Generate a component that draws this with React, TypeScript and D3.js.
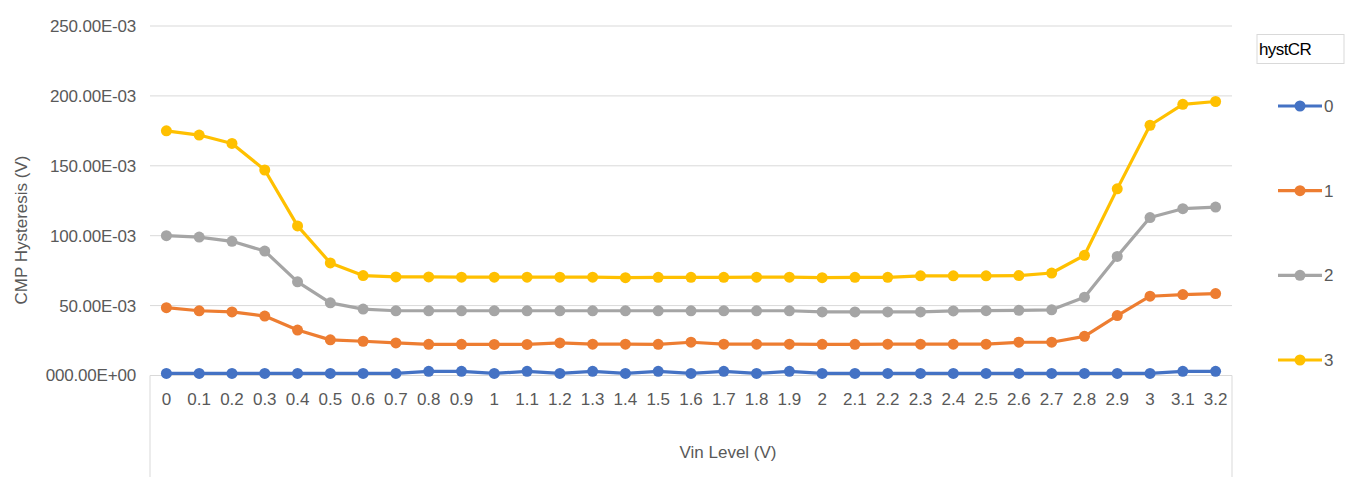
import * as d3 from 'd3';
import React from 'react';

// Vin level categories (V)
const categories: string[] = [
  '0', '0.1', '0.2', '0.3', '0.4', '0.5', '0.6', '0.7', '0.8', '0.9', '1',
  '1.1', '1.2', '1.3', '1.4', '1.5', '1.6', '1.7', '1.8', '1.9', '2',
  '2.1', '2.2', '2.3', '2.4', '2.5', '2.6', '2.7', '2.8', '2.9', '3', '3.1', '3.2',
];

// hysteresis values in mV, one array per hystCR setting
const hyst0: number[] = [
  1.5, 1.5, 1.5, 1.5, 1.5, 1.5, 1.5, 1.5, 3, 3, 1.5,
  3, 1.5, 3, 1.5, 3, 1.5, 3, 1.5, 3, 1.5,
  1.5, 1.5, 1.5, 1.5, 1.5, 1.5, 1.5, 1.5, 1.5, 1.5, 3, 3,
];
const hyst1: number[] = [
  48.5, 46.3, 45.5, 42.5, 32.5, 25.5, 24.5, 23.3, 22.3, 22.3, 22.2,
  22.2, 23.3, 22.4, 22.4, 22.3, 23.8, 22.4, 22.4, 22.4, 22.3,
  22.3, 22.4, 22.4, 22.4, 22.4, 23.8, 23.8, 28, 42.9, 56.7, 57.9, 58.6,
];
const hyst2: number[] = [
  100, 99, 96, 89, 67, 52, 47.5, 46.3, 46.3, 46.3, 46.3,
  46.3, 46.3, 46.3, 46.3, 46.3, 46.3, 46.3, 46.3, 46.3, 45.5,
  45.5, 45.5, 45.5, 46.2, 46.4, 46.6, 47, 56, 85.2, 113, 119.3, 120.5,
];
const hyst3: number[] = [
  175, 172, 166, 147, 107, 80.5, 71.5, 70.5, 70.5, 70.3, 70.3,
  70.3, 70.3, 70.3, 70, 70.2, 70.2, 70.2, 70.3, 70.3, 70,
  70.2, 70.2, 71.3, 71.3, 71.3, 71.5, 73.3, 86, 133.5, 179, 194, 196,
];

const seriesNames: string[] = ['0', '1', '2', '3'];
const seriesColors: string[] = ['#4472C4', '#ED7D31', '#A5A5A5', '#FFC000'];
const yTicks: number[] = [0, 50, 100, 150, 200, 250];

const W = 1345;
const H = 477;
const FONT = "'Liberation Sans', Arial, Helvetica, sans-serif";

export default function App() {
  const series = [hyst0, hyst1, hyst2, hyst3];

  const xScale = d3.scaleBand<string>().domain(categories).range([150, 1232]);
  const yScale = d3.scaleLinear().domain([0, 250]).range([375.5, 26]);
  const xc = (c: string) => (xScale(c) ?? 0) + xScale.bandwidth() / 2;

  const line = d3
    .line<number>()
    .x((_, i) => xc(categories[i]))
    .y((d) => yScale(d));

  const fmt = (v: number) => (v === 0 ? '000.00E+00' : `${v.toFixed(2)}E-03`);

  const legendY = d3.scalePoint<string>().domain(seriesNames).range([106, 360]);

  return (
    <svg
      width={W}
      height={H}
      style={{ position: 'absolute', left: 0, top: 0, background: '#fff' }}
      fontFamily={FONT}
    >
      {/* gridlines */}
      {yTicks.map((t) => (
        <line key={t} x1={150} x2={1232} y1={yScale(t)} y2={yScale(t)} stroke="#D9D9D9" strokeWidth={1} />
      ))}

      {/* category axis box */}
      <line x1={150} x2={150} y1={yScale(0)} y2={H} stroke="#D9D9D9" />
      <line x1={1232} x2={1232} y1={yScale(0)} y2={H} stroke="#D9D9D9" />

      {/* y tick labels */}
      {yTicks.map((t) => (
        <text
          key={t}
          x={136}
          y={yScale(t)}
          dy="0.35em"
          textAnchor="end"
          fontSize={17}
          letterSpacing={-0.2}
          fill="#595959"
        >
          {fmt(t)}
        </text>
      ))}

      {/* x tick labels */}
      {categories.map((c) => (
        <text key={c} x={xc(c)} y={399} dy="0.35em" textAnchor="middle" fontSize={17} fill="#595959">
          {c}
        </text>
      ))}

      {/* axis titles */}
      <text x={728} y={452} dy="0.35em" textAnchor="middle" fontSize={17} fill="#595959">
        Vin Level (V)
      </text>
      <text
        transform="translate(21,230) rotate(-90)"
        dy="0.35em"
        textAnchor="middle"
        fontSize={17}
        fill="#595959"
      >
        CMP Hysteresis (V)
      </text>

      {/* series */}
      {series.map((vals, si) => (
        <g key={si}>
          <path d={line(vals) ?? ''} fill="none" stroke={seriesColors[si]} strokeWidth={3.2} strokeLinejoin="round" />
          {vals.map((v, i) => (
            <circle key={i} cx={xc(categories[i])} cy={yScale(v)} r={5.5} fill={seriesColors[si]} />
          ))}
        </g>
      ))}

      {/* legend */}
      <rect x={1257} y={34.5} width={87} height={29} fill="#fff" stroke="#D9D9D9" />
      <text x={1259} y={49} dy="0.35em" fontSize={17} letterSpacing={-0.6} fill="#000">
        hystCR
      </text>
      {seriesNames.map((n, si) => {
        const y = legendY(n) ?? 0;
        return (
          <g key={n}>
            <line x1={1278} x2={1322} y1={y} y2={y} stroke={seriesColors[si]} strokeWidth={3.2} />
            <circle cx={1300} cy={y} r={5.5} fill={seriesColors[si]} />
            <text x={1324} y={y} dy="0.35em" fontSize={17} fill="#595959">
              {n}
            </text>
          </g>
        );
      })}
    </svg>
  );
}
